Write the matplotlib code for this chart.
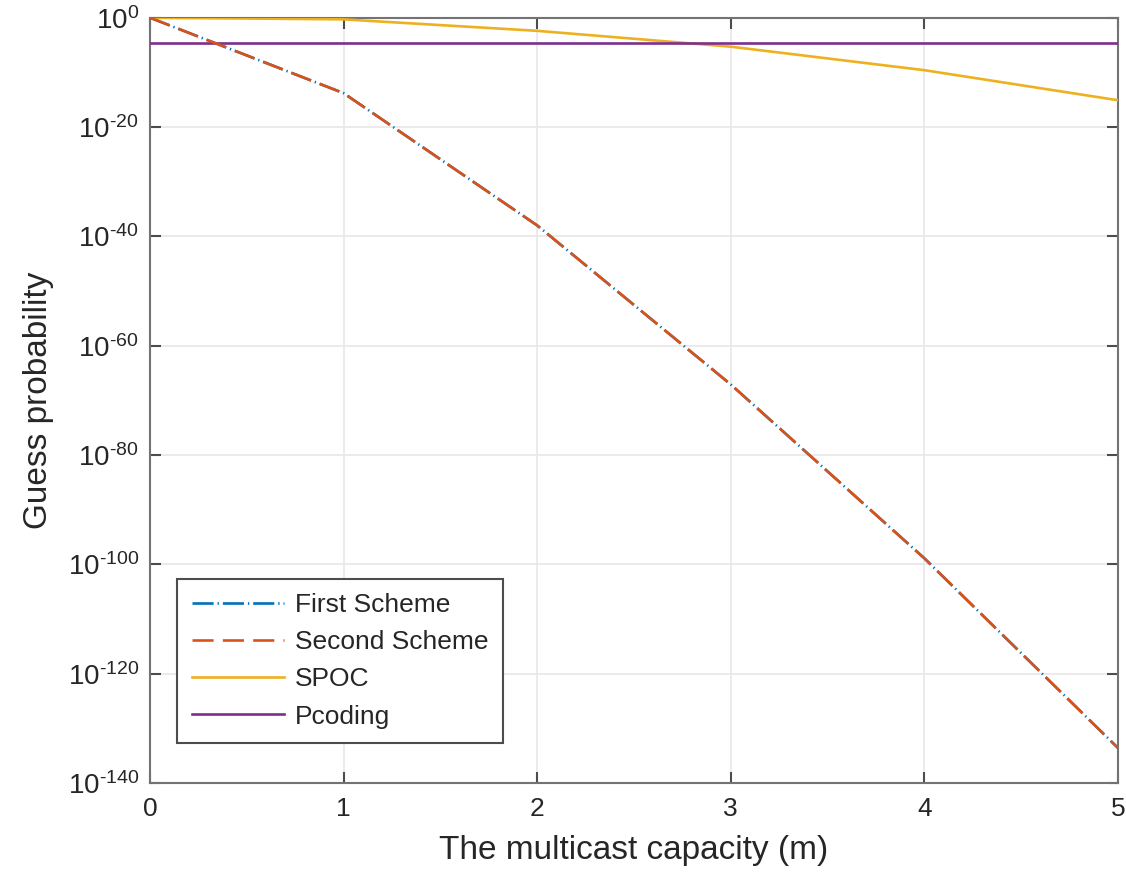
import matplotlib
matplotlib.use('Agg')
import matplotlib.pyplot as plt
import numpy as np
from matplotlib.ticker import FuncFormatter, FixedLocator, NullLocator

# values (log10 of guess probability)
m = [0, 1, 2, 3, 4, 5]
first_log = [0, -13.8, -38.0, -67.1, -98.9, -133.6]
second_log = [0, -13.8, -38.0, -67.1, -98.9, -133.6]
spoc_log = [0, -0.3, -2.4, -5.3, -9.6, -15.1]
pcoding_log = [-4.6, -4.6, -4.6, -4.6, -4.6, -4.6]

labels = ['First Scheme', 'Second Scheme', 'SPOC', 'Pcoding']
yticks = [10.0 ** k for k in range(-140, 1, 20)]

plt.rcParams['font.family'] = ['Liberation Sans', 'DejaVu Sans']
plt.rcParams['mathtext.fontset'] = 'custom'
plt.rcParams['mathtext.rm'] = 'Liberation Sans'
plt.rcParams['mathtext.it'] = 'Liberation Sans'
plt.rcParams['mathtext.bf'] = 'Liberation Sans'
plt.rcParams['axes.unicode_minus'] = False


def pow_label(v, pos):
    e = int(round(np.log10(v)))
    if e < 0:
        return r'$10^{\text{-}%d}$' % (-e)
    return r'$10^{%d}$' % e


fig = plt.figure(figsize=(11.26, 8.77), dpi=100)
ax = fig.add_axes([0.1332, 0.1072, 0.8597, 0.8726])

c_blue = (0, 0.447, 0.741)
c_orange = (0.85, 0.325, 0.098)
c_yellow = (0.929, 0.694, 0.125)
c_purple = (0.494, 0.184, 0.556)
txt = (0.15, 0.15, 0.15)

lw = 1.9
l1, = ax.plot(m, 10.0 ** np.array(first_log), color=c_blue, linestyle=(0, (8, 1.5, 0.5, 1.5)),
              lw=lw, label=labels[0], zorder=3)
l2, = ax.plot(m, 10.0 ** np.array(second_log), color=c_orange, linestyle=(0, (8, 3.5)),
              lw=lw, label=labels[1], zorder=4)
l3, = ax.plot(m, 10.0 ** np.array(spoc_log), color=c_yellow, lw=lw, label=labels[2], zorder=3)
l4, = ax.plot(m, 10.0 ** np.array(pcoding_log), color=c_purple, lw=lw, label=labels[3], zorder=3)

ax.set_yscale('log')
ax.set_xlim(0, 5)
ax.set_ylim(1e-140, 1e0)
ax.yaxis.set_major_locator(FixedLocator(yticks))
ax.yaxis.set_minor_locator(NullLocator())
ax.yaxis.set_major_formatter(FuncFormatter(pow_label))
ax.set_xticks(m)

ax.grid(True, color=(0.91, 0.91, 0.91), lw=1.2, zorder=0)
ax.set_axisbelow(True)
for s in ax.spines.values():
    s.set_color((0.45, 0.45, 0.45))
    s.set_linewidth(1.5)
ax.tick_params(direction='in', length=8, width=1.5, color=(0.3, 0.3, 0.3),
               top=True, right=True, labelcolor=txt)
ax.tick_params(axis='x', labelsize=19, pad=10)
ax.tick_params(axis='y', labelsize=20, pad=8)

ax.set_xlabel('The multicast capacity (m)', fontsize=24, color=txt, labelpad=10)
ax.set_ylabel('Guess probability', fontsize=24, color=txt, labelpad=10)

leg = ax.legend(handles=[l1, l2, l3, l4], loc='lower left', bbox_to_anchor=(0.028, 0.052),
                borderaxespad=0, fontsize=19, handlelength=3.5, handletextpad=0.4,
                fancybox=False, framealpha=1, edgecolor=(0.3, 0.3, 0.3),
                borderpad=0.55, labelspacing=0.5)
leg.get_frame().set_linewidth(1.5)
for t in leg.get_texts():
    t.set_color(txt)

fig.savefig('out.png', dpi=100)
